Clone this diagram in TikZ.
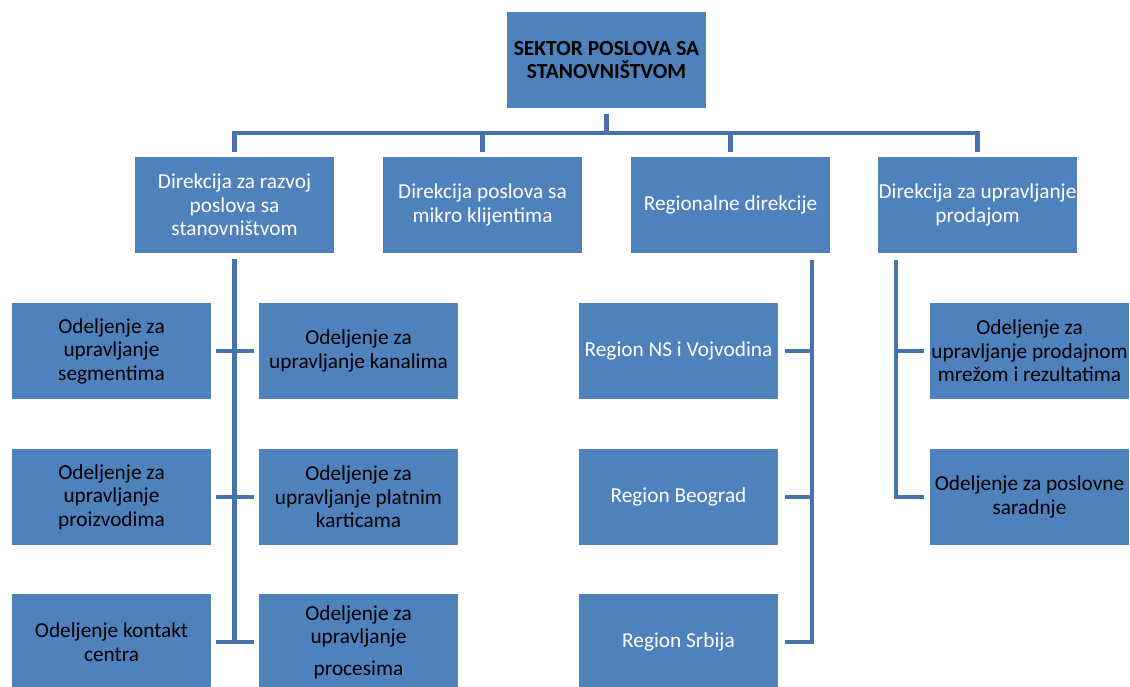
\documentclass[tikz,border=0pt]{standalone}
\usepackage{fontspec}
\setmainfont{Carlito}
\definecolor{boxblue}{HTML}{4F81BD}
\definecolor{lineblue}{HTML}{4673AA}
\begin{document}
\begin{tikzpicture}[x=1pt,y=-1pt,
  box/.style={fill=boxblue, minimum width=199pt, minimum height=96pt, inner sep=0pt, align=center, font=\fontsize{21.3}{23.5}\selectfont},
  wbox/.style={box, text=white},
  kbox/.style={box, text=black},
  conn/.style={draw=lineblue, line width=4.3pt}]
\useasboundingbox (0,0) rectangle (1130,686);
% top
\node[kbox, font=\bfseries\fontsize{21.5}{23.5}\selectfont] (top) at (606.5,60) {SEKTOR POSLOVA SA\\STANOVNIŠTVOM};
% level 2
\node[wbox] (d1) at (234.5,205) {Direkcija za razvoj\\poslova sa\\stanovništvom};
\node[wbox] (d2) at (482.5,205) {Direkcija poslova sa\\mikro klijentima};
\node[wbox] (d3) at (730.5,205) {Regionalne direkcije};
\node[wbox] (d4) at (977.5,205) {Direkcija za upravljanje\\prodajom};
% left department groups
\node[kbox] (l1) at (111.5,351) {Odeljenje za\\upravljanje\\segmentima};
\node[kbox] (l2) at (111.5,497) {Odeljenje za\\upravljanje\\proizvodima};
\node[kbox] (l3) at (111.5,642) {Odeljenje kontakt\\centra};
\node[kbox] (r1) at (358.5,351) {Odeljenje za\\upravljanje kanalima};
\node[kbox] (r2) at (358.5,497) {Odeljenje za\\upravljanje platnim\\karticama};
\node[kbox] (r3) at (358.5,642) {Odeljenje za\\upravljanje\\[8pt]procesima};
% regions
\node[wbox] (g1) at (678.5,351) {Region NS i Vojvodina};
\node[wbox] (g2) at (678.5,497) {Region Beograd};
\node[wbox] (g3) at (678.5,642) {Region Srbija};
% sales
\node[kbox] (p1) at (1029.5,351) {Odeljenje za\\upravljanje prodajnom\\mrežom i rezultatima};
\node[kbox] (p2) at (1029.5,497) {Odeljenje za poslovne\\saradnje};
% connectors
\coordinate (bar) at (0,133);
\draw[conn] ([yshift=-6pt]top.south) -- (top.south |- bar);
\draw[conn] ([yshift=5pt]d1.north) -- (d1.north |- bar) -- (d4.north |- bar) -- ([yshift=5pt]d4.north);
\draw[conn] (d2.north |- bar) -- ([yshift=5pt]d2.north);
\draw[conn] (d3.north |- bar) -- ([yshift=5pt]d3.north);
% d1 subtree
\draw[conn] ([yshift=-6pt]d1.south) -- (d1.south |- l3.east);
\draw[conn] ([xshift=5pt]l1.east) -- ([xshift=-5pt]r1.west);
\draw[conn] ([xshift=5pt]l2.east) -- ([xshift=-5pt]r2.west);
\draw[conn] ([xshift=5pt]l3.east) -- ([xshift=-5pt]r3.west);
% regions subtree
\coordinate (rv) at (812,260);
\draw[conn] (rv) -- (rv |- g3.east) -- ([xshift=7pt]g3.east);
\draw[conn] ([xshift=7pt]g1.east) -- (rv |- g1.east);
\draw[conn] ([xshift=7pt]g2.east) -- (rv |- g2.east);
% sales subtree
\coordinate (pv) at (896,260);
\draw[conn] (pv) -- (pv |- p2.west) -- ([xshift=-6pt]p2.west);
\draw[conn] ([xshift=-6pt]p1.west) -- (pv |- p1.west);
\end{tikzpicture}
\end{document}
